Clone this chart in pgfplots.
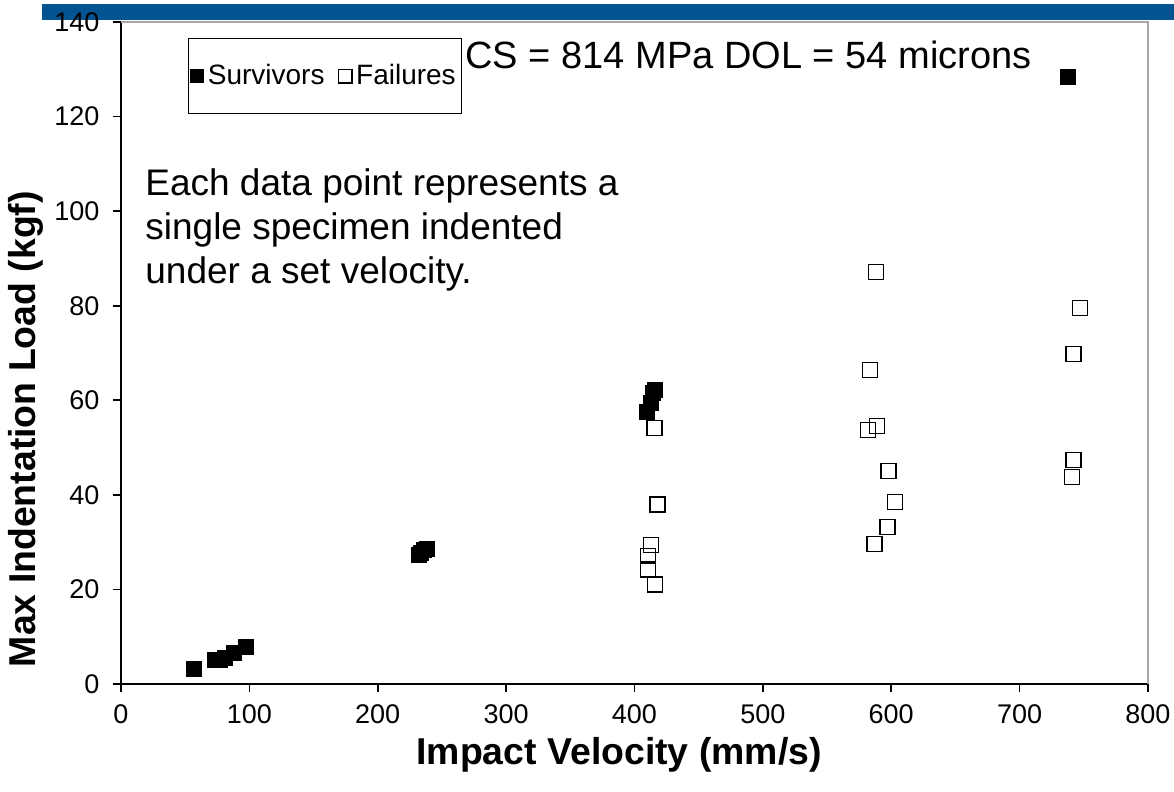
\documentclass[border=0pt]{standalone}
\usepackage{pgfplots}
\pgfplotsset{compat=1.18}
\usepackage{fontspec}
\setmainfont{Liberation Sans}
\definecolor{barblue}{RGB}{4,84,146}
\begin{document}
\begin{tikzpicture}
\useasboundingbox (0,0) rectangle (587pt,396pt);
\fill[barblue] (21pt,386pt) rectangle (587pt,394pt);
\begin{axis}[
  at={(60.5pt,54pt)}, anchor=south west,
  width=513.5pt, height=331pt, scale only axis,
  xmin=0, xmax=800, ymin=0, ymax=140,
  xtick={0,100,...,800}, ytick={0,20,...,140},
  axis x line*=bottom, axis y line*=left,
  axis line style={black, line width=1pt, -},
  tick align=outside, major tick length=4pt,
  tick style={black, line width=0.8pt},
  /pgf/number format/assume math mode=true,
  tick label style={font=\fontsize{13.5}{16}\selectfont},
  xticklabel style={yshift=-2.8pt},
  yticklabel style={xshift=-3.3pt},
  xlabel={Impact Velocity (mm/s)},
  ylabel={Max Indentation Load (kgf)},
  xlabel style={at={(axis description cs:0.485,-0.107)}, anchor=center, font=\bfseries\fontsize{18.7}{22}\selectfont},
  ylabel style={at={(axis description cs:-0.0925,0.385)}, anchor=center, font=\bfseries\fontsize{18.7}{22}\selectfont},
  legend style={at={(0.065,0.976)}, anchor=north west, draw=black, line width=0.5pt,
    inner xsep=1pt, inner ysep=11pt, font=\fontsize{14}{16}\selectfont,
    /tikz/every even column/.append style={column sep=5pt}},
  legend columns=2, legend cell align=left,
  legend image code/.code={\draw[mark repeat=2,mark phase=2,#1,mark size=3.4pt] plot coordinates {(0cm,0cm) (0.12cm,0cm) (0.24cm,0cm)};},
  clip=false,
]
\addplot[only marks, mark=square*, mark size=3.75pt, mark options={fill=black, draw=black}] coordinates {
(57,3.2) (73,5.0) (77,5.1) (81,5.6) (88,6.6) (97,7.8)
(232,27.3) (234,27.8) (236,28.3) (238,28.6)
(410,57.5) (413,59.5) (414,61.5) (416,62.2)
(738,128.4)
};
\addlegendentry{Survivors}
\addplot[only marks, mark=square, mark size=3.75pt, mark options={draw=black, line width=0.7pt, fill=white}] coordinates {
(415.5,54.1) (418,38.0) (413,29.4) (410.5,27.1) (410.5,24.2) (416,21.0)
(588,87.1) (583.5,66.4) (589,54.5) (582,53.7) (598,45.0) (603,38.5) (597,33.2) (587,29.6)
(747,79.5) (742,69.8) (742,47.4) (741,43.8)
};
\addlegendentry{Failures}
\draw[gray!70, line width=0.6pt] (rel axis cs:0,1) -- (rel axis cs:1,1) -- (rel axis cs:1,0);
\node[anchor=west, inner sep=0pt, font=\fontsize{19}{22}\selectfont] at (axis cs:268,133) {CS = 814 MPa DOL = 54 microns};
\node[anchor=west, inner sep=0pt, align=left, font=\fontsize{18.5}{22}\selectfont] at (axis cs:18.7,96) {Each data point represents a\\single specimen indented\\under a set velocity.};
\end{axis}
\end{tikzpicture}
\end{document}
